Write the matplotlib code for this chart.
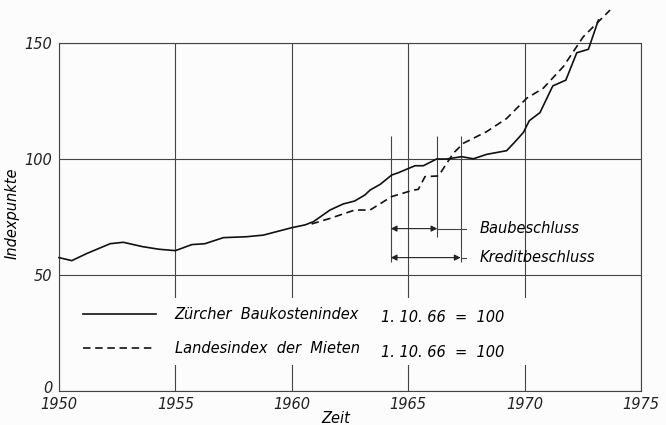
import numpy as np
import matplotlib
matplotlib.use("Agg")
import matplotlib.pyplot as plt
import matplotlib.transforms as mtransforms

# Zürcher Baukostenindex (solid)
bau_years = [1950.0, 1950.55, 1951.2, 1952.2, 1952.76, 1953.6, 1954.3, 1955.0, 1955.7,
             1956.27, 1957.06, 1958.06, 1958.78, 1960.0, 1960.57, 1960.93, 1961.64,
             1962.2, 1962.7, 1963.14, 1963.36, 1963.8, 1964.29, 1964.58, 1965.03,
             1965.29, 1965.65, 1966.22, 1966.65, 1967.3, 1967.8, 1968.37, 1969.23,
             1969.66, 1969.95, 1970.2, 1970.66, 1971.21, 1971.77, 1972.24, 1972.74,
             1973.17]
bau_values = [57.5, 56.2, 59.3, 63.5, 64.1, 62.2, 61.1, 60.5, 63.1,
              63.5, 66.1, 66.5, 67.2, 70.4, 71.6, 73.0, 78.0,
              80.6, 81.9, 84.5, 86.6, 89.1, 93.1, 94.1, 96.0,
              97.1, 97.1, 100.0, 100.0, 101.0, 100.1, 102.0, 103.6,
              108.2, 111.5, 116.5, 120.0, 131.5, 134.0, 145.8, 147.3,
              159.9]

# Landesindex der Mieten (dashed)
miet_years = [1960.85, 1961.64, 1962.7, 1963.36, 1964.29, 1965.22, 1965.43, 1965.72,
              1966.3, 1966.94, 1967.37, 1968.37, 1969.23, 1970.09, 1970.8, 1971.66,
              1972.52, 1973.67]
miet_values = [72.0, 74.4, 78.0, 78.0, 83.8, 86.6, 86.9, 92.4,
               92.7, 102.5, 106.8, 111.8, 117.5, 126.2, 130.5, 139.8,
               152.7, 164.2]

# decision markers
marker_years = [1964.25, 1966.25, 1967.25]
marker_bottoms = [55.5, 66.5, 55.5]
marker_top = 110
decisions = ["Baubeschluss", "Kreditbeschluss"]
decision_ends = [1966.25, 1967.25]
decision_levels = [70, 57.5]

x_ticks = [1950, 1955, 1960, 1965, 1970, 1975]
y_ticks = [0, 50, 100, 150]

BG = "#fcfcfc"
plt.rcParams["font.family"] = ["DejaVu Sans"]
plt.rcParams["font.style"] = "italic"

fig = plt.figure(figsize=(6.66, 4.25), dpi=100, facecolor=BG)
ax = fig.add_axes([0.0886, 0.08, 0.8739, 0.8188])
ax.set_facecolor(BG)

ax.set_xlim(1950, 1975)
ax.set_ylim(0, 150)
ax.set_xticks(x_ticks)
ax.set_yticks(y_ticks)
ax.tick_params(length=0, labelsize=10.5, colors="#222222")
ax.tick_params(axis="x", pad=4)
ax.tick_params(axis="y", pad=5)
for s in ax.spines.values():
    s.set_color("#444444")
    s.set_linewidth(0.8)
ax.grid(True, color="#444444", lw=0.8)
ax.set_axisbelow(True)

# lift the "0" label a little so it clears "1950"
zero_lbl = ax.get_yticklabels()[0]
zero_lbl.set_transform(zero_lbl.get_transform() +
                       mtransforms.ScaledTranslation(0, 3 / 72, fig.dpi_scale_trans))

dash = (0, (4.5, 2.8))
l1, = ax.plot(bau_years, bau_values, color="#111111", lw=1.2, clip_on=False, zorder=3)
l2, = ax.plot(miet_years, miet_values, color="#111111", lw=1.2, ls=dash, clip_on=False, zorder=3)

# marker lines and arrows
ax.vlines(marker_years, marker_bottoms, marker_top, color="#444444", lw=0.8, zorder=2)
for name, end, lvl in zip(decisions, decision_ends, decision_levels):
    ax.annotate("", xy=(end, lvl), xytext=(marker_years[0], lvl),
                arrowprops=dict(arrowstyle="<|-|>", color="#222222", lw=0.8,
                                mutation_scale=9, shrinkA=0, shrinkB=0))
    ax.plot([end, 1967.5], [lvl, lvl], color="#444444", lw=0.8)
    ax.text(1968.05, lvl, name, fontsize=10.5, va="center", ha="left")

leg = ax.legend([l1, l2], ["Zürcher  Baukostenindex", "Landesindex  der  Mieten"],
                loc="upper left", bbox_to_anchor=(0.026, 0.0, 0.80, 0.267),
                mode="expand", borderaxespad=0, borderpad=0.6, fontsize=10.5,
                handlelength=5.0, handletextpad=1.3, labelspacing=1.3,
                frameon=True, fancybox=False, facecolor=BG, edgecolor="none",
                framealpha=1)
leg.set_zorder(5)

base_labels = ["1. 10. 66  =  100", "1. 10. 66  =  100"]
base_levels = [31.5, 16.8]
for lab, lvl in zip(base_labels, base_levels):
    ax.text(1963.83, lvl, lab, fontsize=10.5, va="center", ha="left", zorder=6)

ax.set_ylabel("Indexpunkte", fontsize=10.5)
ax.yaxis.set_label_coords(-0.067, 0.51)
ax.set_xlabel("Zeit", fontsize=10.5)
ax.xaxis.set_label_coords(0.476, -0.058)

fig.savefig("out.png", dpi=100, facecolor=BG)
